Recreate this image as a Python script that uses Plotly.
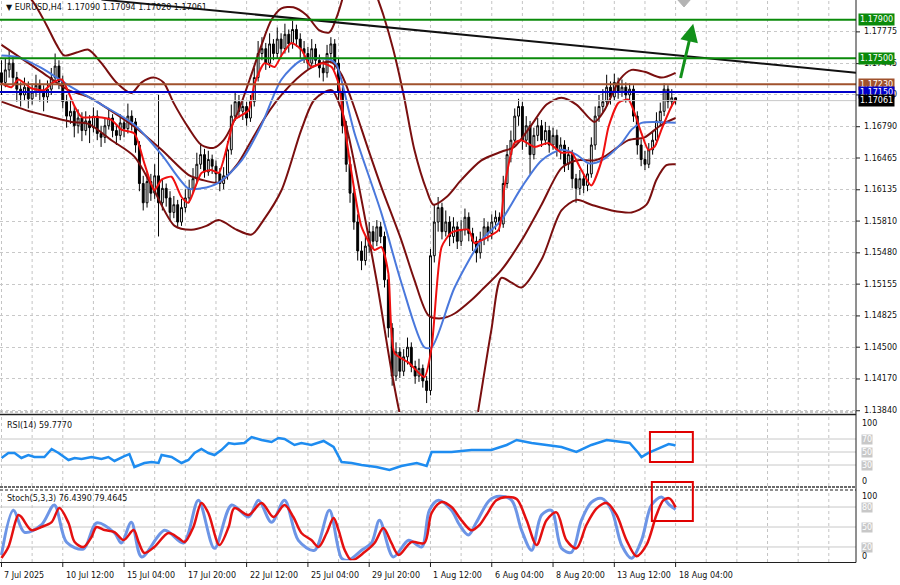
import plotly.graph_objects as go

# ---------------- DATA ----------------
bars = list(range(177))  # H4 bars, 7 Jul 2025 20:00 .. 18 Aug 2025 04:00

close = [
    1.1725, 1.1738, 1.1745, 1.1730, 1.1718, 1.1712, 1.1720, 1.1708, 1.1715, 1.1722,
    1.1716, 1.1710, 1.1718, 1.1730, 1.1742, 1.1726, 1.1705, 1.1690, 1.1695, 1.1680,
    1.1688, 1.1675, 1.1685, 1.1678, 1.1690, 1.1672, 1.1668, 1.1680, 1.1688, 1.1675,
    1.1670, 1.1683, 1.1677, 1.1690, 1.1684, 1.1660, 1.1620, 1.1600, 1.1622, 1.1610,
    1.1628, 1.1600, 1.1615, 1.1605, 1.1590, 1.1598, 1.1580, 1.1595, 1.1605, 1.1615,
    1.1625, 1.1640, 1.1650, 1.1632, 1.1645, 1.1638, 1.1630, 1.1620, 1.1628, 1.1655,
    1.1690, 1.1705, 1.1695, 1.1700, 1.1688, 1.1705, 1.1730, 1.1755, 1.1760, 1.1745,
    1.1765, 1.1755, 1.1770, 1.1760, 1.1775, 1.1765, 1.1780, 1.1770, 1.1760, 1.1755,
    1.1745, 1.1760, 1.1748, 1.1740, 1.1735, 1.1755, 1.1765, 1.1745, 1.1715, 1.1680,
    1.1640, 1.1610, 1.1580, 1.1550, 1.1540, 1.1555, 1.1570, 1.1560, 1.1575, 1.1565,
    1.1520, 1.1470, 1.1420, 1.1445, 1.1425, 1.1440, 1.1450, 1.1430, 1.1420, 1.1428,
    1.1415, 1.1405, 1.1545, 1.1580, 1.1595, 1.1570, 1.1580, 1.1565, 1.1575, 1.1560,
    1.1572, 1.1585, 1.1568, 1.1560, 1.1548, 1.1562, 1.1575, 1.1568, 1.1580, 1.1585,
    1.1578, 1.1620, 1.1650, 1.1665, 1.1690, 1.1700, 1.1665, 1.1680, 1.1650, 1.1670,
    1.1680, 1.1665, 1.1675, 1.1660, 1.1670, 1.1655, 1.1660, 1.1640, 1.1650, 1.1625,
    1.1615, 1.1625, 1.1618, 1.1630, 1.1660, 1.1690, 1.1700, 1.1705, 1.1720, 1.1710,
    1.1725, 1.1715, 1.1720, 1.1712, 1.1718, 1.1690, 1.1660, 1.1645, 1.1640, 1.1655,
    1.1665, 1.1685, 1.1695, 1.1718, 1.1705, 1.1709, 1.17061,
]
high = [
    1.1748, 1.1750, 1.1758, 1.1752, 1.1736, 1.1725, 1.1730, 1.1726, 1.1724, 1.1733,
    1.1728, 1.1722, 1.1727, 1.1740, 1.1755, 1.1748, 1.1732, 1.1712, 1.1706, 1.1700,
    1.1697, 1.1694, 1.1695, 1.1691, 1.1699, 1.1696, 1.1680, 1.1688, 1.1697, 1.1692,
    1.1681, 1.1692, 1.1688, 1.1703, 1.1696, 1.1688, 1.1664, 1.1628, 1.1632, 1.1630,
    1.1640, 1.1712, 1.1624, 1.1620, 1.1612, 1.1607, 1.1603, 1.1604, 1.1614, 1.1624,
    1.1636, 1.1652, 1.1662, 1.1656, 1.1654, 1.1650, 1.1644, 1.1636, 1.1637, 1.1664,
    1.1702, 1.1716, 1.1712, 1.1708, 1.1705, 1.1712, 1.1740, 1.1768, 1.1772, 1.1766,
    1.1776, 1.1770, 1.1782, 1.1776, 1.1786, 1.1780, 1.1789, 1.1785, 1.1776, 1.1768,
    1.1762, 1.1770, 1.1765, 1.1754, 1.1748, 1.1764, 1.1772, 1.1770, 1.1750, 1.1720,
    1.1685, 1.1648, 1.1616, 1.1588, 1.1560, 1.1566, 1.1580, 1.1576, 1.1582, 1.1580,
    1.1570, 1.1525, 1.1475, 1.1455, 1.1450, 1.1448, 1.1460, 1.1455, 1.1436, 1.1438,
    1.1432, 1.1420, 1.1552, 1.1598, 1.1606, 1.1600, 1.1592, 1.1586, 1.1585, 1.1580,
    1.1582, 1.1594, 1.1590, 1.1574, 1.1565, 1.1570, 1.1584, 1.1580, 1.1588, 1.1592,
    1.1590, 1.1628, 1.1660, 1.1675, 1.1698, 1.1708, 1.1705, 1.1690, 1.1685, 1.1678,
    1.1688, 1.1686, 1.1684, 1.1680, 1.1678, 1.1676, 1.1668, 1.1665, 1.1658, 1.1655,
    1.1630, 1.1634, 1.1630, 1.1640, 1.1668, 1.1700, 1.1712, 1.1718, 1.1733, 1.1726,
    1.1734, 1.1730, 1.1728, 1.1725, 1.1724, 1.1722, 1.1695, 1.1666, 1.1654, 1.1662,
    1.1674, 1.1694, 1.1704, 1.1724, 1.1722, 1.1718, 1.17094,
]
low = [
    1.1712, 1.1720, 1.1730, 1.1722, 1.1705, 1.1700, 1.1706, 1.1698, 1.1702, 1.1710,
    1.1705, 1.1695, 1.1704, 1.1712, 1.1725, 1.1718, 1.1698, 1.1678, 1.1682, 1.1668,
    1.1672, 1.1664, 1.1670, 1.1662, 1.1673, 1.1665, 1.1658, 1.1662, 1.1676, 1.1668,
    1.1660, 1.1665, 1.1668, 1.1672, 1.1675, 1.1652, 1.1612, 1.1592, 1.1595, 1.1602,
    1.1604, 1.1565, 1.1592, 1.1596, 1.1582, 1.1584, 1.1575, 1.1576, 1.1590, 1.1600,
    1.1610, 1.1620, 1.1635, 1.1626, 1.1628, 1.1630, 1.1620, 1.1612, 1.1614, 1.1624,
    1.1650, 1.1685, 1.1688, 1.1686, 1.1680, 1.1684, 1.1700, 1.1726, 1.1748, 1.1738,
    1.1740, 1.1748, 1.1750, 1.1752, 1.1755, 1.1756, 1.1760, 1.1762, 1.1750, 1.1745,
    1.1738, 1.1740, 1.1742, 1.1730, 1.1726, 1.1730, 1.1748, 1.1738, 1.1705, 1.1672,
    1.1632, 1.1600, 1.1572, 1.1540, 1.1530, 1.1535, 1.1548, 1.1552, 1.1555, 1.1558,
    1.1512, 1.1460, 1.1410, 1.1415, 1.1418, 1.1420, 1.1432, 1.1424, 1.1412, 1.1414,
    1.1408, 1.1392, 1.1400, 1.1538, 1.1570, 1.1562, 1.1565, 1.1555, 1.1558, 1.1552,
    1.1555, 1.1566, 1.1560, 1.1550, 1.1538, 1.1542, 1.1556, 1.1560, 1.1562, 1.1572,
    1.1570, 1.1574, 1.1615, 1.1642, 1.1660, 1.1680, 1.1655, 1.1658, 1.1630, 1.1645,
    1.1664, 1.1658, 1.1660, 1.1652, 1.1655, 1.1648, 1.1645, 1.1632, 1.1634, 1.1615,
    1.1600, 1.1608, 1.1610, 1.1612, 1.1626, 1.1655, 1.1684, 1.1694, 1.1700, 1.1702,
    1.1706, 1.1708, 1.1710, 1.1704, 1.1706, 1.1684, 1.1650, 1.1638, 1.1634, 1.1636,
    1.1650, 1.1660, 1.1680, 1.1690, 1.1698, 1.1700, 1.17020,
]
first_open = 1.1735
open_ = [first_open] + close[:-1]

# Bollinger bands (upper / middle / lower), read at sample bars
ub_x = [0, 3.9, 7.8, 11.7, 14.4, 16.4, 19.6, 22.7, 26.1, 30.0, 33.9, 36.6, 39.7, 42.3, 44.9, 48.8,
        52.2, 55.4, 58.0, 61.4, 64.8, 67.9, 70.5, 73.1, 76.2, 79.6, 83.0, 85.6, 87.7, 89.3, 91.4,
        95.3, 97.9, 99.7, 102.3, 105.0, 107.8, 111.0, 112.8, 116.2, 120.1, 125.3, 130.5, 133.9,
        138.4, 142.3, 146.2, 150.1, 154.8, 157.4, 161.4, 164.5, 167.9, 172.3, 176]
ub_y = [1.1823, 1.1823, 1.1811, 1.1785, 1.1764, 1.1753, 1.1756, 1.1759, 1.1745, 1.1725, 1.1714,
        1.1725, 1.1730, 1.1725, 1.1704, 1.1678, 1.1660, 1.1657, 1.1665, 1.1691, 1.1728, 1.1764,
        1.1790, 1.1802, 1.1803, 1.1795, 1.1779, 1.1777, 1.1795, 1.1816, 1.1852, 1.1852, 1.1816,
        1.1795, 1.1759, 1.1712, 1.1655, 1.1613, 1.1598, 1.1606, 1.1624, 1.1644, 1.1653, 1.1658,
        1.1681, 1.1702, 1.1709, 1.1702, 1.1684, 1.1696, 1.1728, 1.1738, 1.1736, 1.1730, 1.1735]
mb_x = [0, 5.2, 10.4, 17.5, 22.7, 26.1, 34.7, 41.8, 48.8, 52.2, 56.7, 61.4, 65.3, 69.2, 73.1, 78.3,
        82.2, 86.2, 88.8, 91.4, 95.8, 99.2, 104.4, 107.8, 111.5, 114.9, 118.3, 122.7, 125.3, 130.5,
        135.8, 141.0, 146.2, 150.1, 154.8, 157.4, 163.7, 167.9, 172.3, 176]
mb_y = [1.1764, 1.1750, 1.1736, 1.1717, 1.1710, 1.1702, 1.1679, 1.1655, 1.1629, 1.1624, 1.1621,
        1.1639, 1.1665, 1.1691, 1.1712, 1.1733, 1.1743, 1.1746, 1.1733, 1.1707, 1.1655, 1.1616,
        1.1561, 1.1520, 1.1483, 1.1480, 1.1485, 1.1499, 1.1509, 1.1530, 1.1561, 1.1598, 1.1636,
        1.1644, 1.1644, 1.1648, 1.1665, 1.1668, 1.1681, 1.1688]
lb_x = [0, 6.5, 13.1, 18.3, 22.7, 28.7, 34.7, 39.2, 45.2, 49.6, 53.5, 56.7, 61.4, 65.3, 68.4, 73.1,
        78.3, 81.7, 86.2, 88.8, 90.6, 94.0, 97.9, 101.8, 104.4, 107.0, 122.7, 124.5, 127.9, 130.5,
        133.2, 135.8, 141.0, 146.2, 150.1, 154.0, 159.3, 164.5, 168.4, 171.0, 173.6, 176]
lb_y = [1.1705, 1.1696, 1.1689, 1.1684, 1.1682, 1.1665, 1.1648, 1.1618, 1.1576, 1.1572, 1.1576,
        1.1582, 1.1572, 1.1567, 1.1582, 1.1613, 1.1676, 1.1707, 1.1717, 1.1696, 1.1670, 1.1603,
        1.1520, 1.1426, 1.1374, 1.1343, 1.1343, 1.1385, 1.1468, 1.1522, 1.1517, 1.1512, 1.1541,
        1.1592, 1.1603, 1.1598, 1.1592, 1.1590, 1.1598, 1.1624, 1.1639, 1.1640]

# Slow moving average (blue) and fast moving average (red)
slow_x = [0, 4.4, 10.4, 17.5, 26.1, 34.7, 41.8, 48.8, 52.2, 56.7, 62.7, 67.9, 73.1, 78.3, 82.2,
          86.2, 87.5, 92.2, 99.2, 104.4, 110.4, 112.3, 118.3, 125.3, 130.5, 135.8, 141.0, 146.2,
          150.1, 153.3, 156.7, 161.9, 164.5, 167.1, 176]
slow_y = [1.1753, 1.1751, 1.1740, 1.1722, 1.1702, 1.1681, 1.1650, 1.1615, 1.1615, 1.1621, 1.1644,
          1.1681, 1.1728, 1.1748, 1.1750, 1.1748, 1.1743, 1.1672, 1.1589, 1.1517, 1.1450, 1.1450,
          1.1512, 1.1561, 1.1582, 1.1616, 1.1644, 1.1655, 1.1650, 1.1641, 1.1644, 1.1662, 1.1676,
          1.1683, 1.1683]
fast_x = [0, 2.6, 4.4, 7.8, 11.2, 13.1, 15.7, 19.1, 20.9, 24.8, 28.7, 31.3, 34.7, 37.3, 39.9, 41.8,
          44.4, 47.0, 48.8, 52.2, 54.8, 56.7, 59.3, 60.8, 64.5, 66.1, 68.7, 71.3, 73.1, 75.7, 78.3,
          80.9, 83.6, 86.2, 88.0, 89.6, 91.4, 94.0, 97.4, 99.2, 101.0, 102.6, 106.3, 110.4, 112.3,
          114.9, 117.5, 121.9, 123.5, 125.3, 129.8, 131.3, 133.9, 135.8, 139.2, 142.8, 146.2, 148.8,
          151.4, 154.0, 156.7, 158.5, 161.1, 163.7, 165.3, 167.1, 168.9, 170.5, 172.3, 174.9, 176]
fast_y = [1.1724, 1.1720, 1.1728, 1.1719, 1.1717, 1.1724, 1.1728, 1.1700, 1.1689, 1.1689, 1.1686,
          1.1676, 1.1672, 1.1641, 1.1613, 1.1624, 1.1627, 1.1606, 1.1600, 1.1631, 1.1634, 1.1631,
          1.1665, 1.1686, 1.1696, 1.1724, 1.1745, 1.1741, 1.1753, 1.1766, 1.1759, 1.1741, 1.1745,
          1.1741, 1.1724, 1.1679, 1.1631, 1.1575, 1.1551, 1.1554, 1.1527, 1.1444, 1.1434, 1.1419,
          1.1450, 1.1554, 1.1569, 1.1572, 1.1558, 1.1561, 1.1572, 1.1616, 1.1662, 1.1665, 1.1658,
          1.1662, 1.1652, 1.1652, 1.1634, 1.1618, 1.1644, 1.1679, 1.1704, 1.1707, 1.1693, 1.1672,
          1.1655, 1.1658, 1.1676, 1.1700, 1.1707]

# RSI(14)
rsi_x = [0, 1.8, 3.4, 5.2, 7.0, 8.6, 11.2, 13.1, 14.9, 17.5, 19.1, 20.9, 23.5, 26.1, 27.9, 29.5,
         32.1, 33.4, 34.7, 37.3, 39.2, 41.0, 41.8, 44.4, 47.0, 48.8, 50.4, 52.2, 54.0, 55.6, 57.4,
         59.3, 60.8, 63.4, 65.3, 67.9, 70.5, 72.3, 73.9, 76.5, 78.3, 80.9, 84.1, 86.7, 88.8, 91.4,
         94.0, 97.9, 101.3, 104.4, 108.4, 111.0, 112.3, 117.5, 122.7, 127.9, 131.9, 134.5, 138.4,
         142.3, 146.2, 150.1, 154.0, 158.0, 161.9, 164.0, 166.3, 167.1, 168.9, 170.5, 172.3, 174.2,
         175.5, 176]
rsi_v = [40.8, 48.5, 48.5, 40.8, 45.4, 42.3, 42.3, 54.6, 48.5, 37.7, 40.8, 39.2, 42.3, 39.2, 42.3,
         36.2, 43.8, 46.9, 26.9, 33.1, 34.6, 33.1, 45.4, 42.3, 33.1, 37.7, 48.5, 54.6, 48.5, 45.4,
         53.0, 63.8, 62.3, 63.8, 73.0, 68.5, 65.4, 71.5, 70.0, 60.8, 63.8, 60.8, 67.0, 57.7, 34.6,
         33.1, 30.0, 26.9, 22.3, 28.5, 33.1, 28.5, 50.0, 50.0, 53.0, 53.0, 60.8, 68.5, 63.8, 60.8,
         57.7, 50.0, 60.8, 68.5, 65.4, 63.8, 48.5, 42.3, 48.5, 53.0, 57.7, 62.3, 60.8, 59.777]

# Stochastic (5,3,3): main (blue) and signal (red)
st_main_x = [0, 3.1, 6.0, 10.4, 13.8, 17.0, 21.4, 24.8, 29.5, 31.3, 33.9, 36.6, 42.6, 47.5, 51.4,
             55.6, 60.1, 64.5, 67.1, 70.5, 73.9, 77.5, 81.7, 85.6, 88.8, 90.6, 94.0, 96.6, 98.7,
             102.3, 106.3, 109.7, 111.7, 114.1, 117.5, 119.6, 121.9, 124.0, 127.4, 130.0, 133.2,
             135.8, 138.4, 141.0, 143.6, 146.2, 148.8, 151.4, 154.0, 156.7, 159.3, 161.9, 164.5,
             167.1, 169.7, 172.3, 174.4, 176]
st_main_v = [8, 75, 42, 53, 83, 27, 17, 56, 41, 26, 57, 5, 45, 26, 90, 18, 83, 65, 90, 57, 90, 30,
             15, 75, 3, 0, 15, 26, 60, 5, 30, 20, 75, 90, 75, 53, 38, 57, 90, 96, 90, 45, 15, 68,
             75, 18, 12, 60, 87, 93, 75, 23, 3, 30, 83, 95, 83, 76.439]
st_sig_x = [0, 1.8, 4.4, 5.2, 7.8, 10.4, 13.1, 15.1, 17.5, 19.1, 21.4, 23.5, 24.8, 26.9, 29.5, 31.9,
            34.5, 35.8, 37.3, 39.9, 43.6, 46.2, 47.8, 50.1, 52.2, 54.0, 56.9, 59.3, 60.8, 64.5, 67.9,
            71.0, 73.9, 76.2, 78.3, 80.9, 82.8, 84.9, 86.7, 88.0, 89.6, 91.4, 94.8, 97.4, 99.7, 101.8,
            103.7, 107.0, 110.4, 112.3, 114.9, 117.5, 120.1, 122.7, 124.8, 126.6, 129.2, 131.9, 134.5,
            137.1, 139.7, 142.3, 144.9, 147.5, 150.1, 152.7, 155.4, 158.0, 160.6, 163.2, 165.8, 168.4,
            171.0, 172.8, 174.4, 176]
st_sig_v = [3.4, 20, 68, 65, 45.4, 50, 57.4, 78.4, 56, 27.4, 20, 35, 50, 45.4, 42.4, 30.4, 45.4,
            27.4, 11, 20, 41, 33.4, 27.4, 50, 86, 71, 23, 50, 78.4, 68, 86, 65, 83, 65, 41, 30.4, 20,
            41, 63.4, 45.4, 15.4, 0, 12.4, 26, 48.4, 26, 8, 27.4, 26, 71, 87.4, 80, 60, 45, 53, 68,
            90, 95, 92, 60, 23, 60, 72, 30, 18, 53, 78, 86, 68, 30, 6, 23, 68, 90, 93, 79.4645]

# Horizontal levels and trend line
levels = [1.1790, 1.1750, 1.1723, 1.1715]
level_colors = ["#0a8a0a", "#0a8a0a", "#a0522d", "#0000c8"]
level_labels = ["1.17900", "1.17500", "1.17230", "1.17150"]
last_price = 1.17061
trend_x = [26.1, 223.5]
trend_y = [1.1811, 1.1735]
arrow_from = (177.2, 1.1728)
arrow_to = (180.6, 1.1786)
shift_marker_bar = 178.2

price_ticks = [1.17775, 1.17445, 1.17120, 1.16790, 1.16465, 1.16135, 1.15810, 1.15480,
               1.15155, 1.14825, 1.14500, 1.14170, 1.13840]
time_tick_bars = [0, 16, 32, 48, 64, 80, 96, 112, 128, 144, 160, 176]
time_tick_text = ["7 Jul 2025", "10 Jul 12:00", "15 Jul 04:00", "17 Jul 20:00", "22 Jul 12:00",
                  "25 Jul 04:00", "29 Jul 20:00", "1 Aug 12:00", "6 Aug 04:00", "8 Aug 20:00",
                  "13 Aug 12:00", "18 Aug 04:00"]

# ---------------- FIGURE ----------------
W, H = 900, 585
PLOT_R = 856 / W
FONT = "DejaVu Sans"


def py(ypx):
    return 1 - ypx / H


fig = go.Figure()

fig.add_trace(go.Candlestick(
    x=bars, open=open_, high=high, low=low, close=close,
    increasing=dict(line=dict(color="black", width=1), fillcolor="white"),
    decreasing=dict(line=dict(color="black", width=1), fillcolor="black"),
    whiskerwidth=0, hoverinfo="skip", showlegend=False, xaxis="x", yaxis="y"))


def add_line(xs, ys, color, width, yaxis="y", shape="spline", smooth=0.8):
    fig.add_trace(go.Scatter(
        x=xs, y=ys, mode="lines", xaxis="x", yaxis=yaxis,
        line=dict(color=color, width=width, shape=shape, smoothing=smooth),
        hoverinfo="skip", showlegend=False))


band_col = "#7a0f0f"
add_line(ub_x, ub_y, band_col, 2)
add_line(mb_x, mb_y, band_col, 2)
add_line(lb_x, lb_y, band_col, 2)
add_line(slow_x, slow_y, "#4a78dc", 2)
add_line(fast_x, fast_y, "#f01010", 2, smooth=0.6)
add_line(trend_x, trend_y, "#111111", 2, shape="linear")

add_line(rsi_x, rsi_v, "#1e8cf0", 2.5, yaxis="y2", shape="linear")
add_line(st_main_x, st_main_v, "#6d95e6", 3, yaxis="y3", smooth=0.9)
add_line(st_sig_x, st_sig_v, "#e41010", 2.5, yaxis="y3", smooth=0.9)

shapes = []
# vertical dotted grid in each panel
panels_px = [(0, 412), (415, 486), (490, 562)]
for k in range(0, 28):
    for (a, b) in panels_px:
        shapes.append(dict(type="line", xref="x", yref="paper", x0=8 * k, x1=8 * k,
                           y0=py(b), y1=py(a), line=dict(color="#c4c4c4", width=1, dash="3px,3px"),
                           layer="below"))
# indicator levels
for lv in (70, 50, 30):
    shapes.append(dict(type="line", xref="paper", yref="y2", x0=0, x1=PLOT_R, y0=lv, y1=lv,
                       line=dict(color="#c8c8c8", width=1), layer="below"))
for lv in (80, 50, 20):
    shapes.append(dict(type="line", xref="paper", yref="y3", x0=0, x1=PLOT_R, y0=lv, y1=lv,
                       line=dict(color="#c8c8c8", width=1), layer="below"))
# price levels
shapes.append(dict(type="line", xref="paper", yref="y", x0=0, x1=PLOT_R, y0=last_price, y1=last_price,
                   line=dict(color="#c8c8c8", width=1)))
for lv, col in zip(levels, level_colors):
    shapes.append(dict(type="line", xref="paper", yref="y", x0=0, x1=PLOT_R, y0=lv, y1=lv,
                       line=dict(color=col, width=2)))
# panel separators and frame
shapes += [
    dict(type="line", xref="paper", yref="paper", x0=0, x1=PLOT_R, y0=py(412), y1=py(412),
         line=dict(color="#909090", width=1, dash="3px,2px")),
    dict(type="line", xref="paper", yref="paper", x0=0, x1=PLOT_R, y0=py(414.5), y1=py(414.5),
         line=dict(color="#202020", width=1.5)),
    dict(type="line", xref="paper", yref="paper", x0=0, x1=PLOT_R, y0=py(487), y1=py(487),
         line=dict(color="#6a6a6a", width=2, dash="3px,1px")),
    dict(type="line", xref="paper", yref="paper", x0=0, x1=PLOT_R, y0=py(490), y1=py(490),
         line=dict(color="#6a6a6a", width=1.5, dash="3px,2px")),
    dict(type="line", xref="paper", yref="paper", x0=0, x1=PLOT_R, y0=py(562.5), y1=py(562.5),
         line=dict(color="#202020", width=1)),
    dict(type="line", xref="paper", yref="paper", x0=PLOT_R, x1=PLOT_R, y0=py(562.5), y1=1,
         line=dict(color="#202020", width=1)),
]
for tb in time_tick_bars:
    shapes.append(dict(type="line", xref="x", yref="paper", x0=tb, x1=tb, y0=py(567), y1=py(562),
                       line=dict(color="#202020", width=1)))
# price-axis tick marks
for pv in price_ticks:
    shapes.append(dict(type="line", xref="paper", yref="y", x0=PLOT_R, x1=860 / W, y0=pv, y1=pv,
                       line=dict(color="#202020", width=1)))
# chart-shift marker at the top
shapes.append(dict(type="path", xref="x", yref="paper",
                   path="M %.2f %.5f L %.2f %.5f L %.2f %.5f Z" % (
                       shift_marker_bar - 1.6, py(0), shift_marker_bar + 1.6, py(0),
                       shift_marker_bar, py(7)),
                   fillcolor="#b4b4b4", line=dict(color="#b4b4b4", width=1)))
# highlight boxes
shapes.append(dict(type="rect", xref="x", yref="paper", x0=169.3, x1=180.5, y0=py(462), y1=py(432),
                   line=dict(color="#e00000", width=2)))
shapes.append(dict(type="rect", xref="x", yref="paper", x0=169.8, x1=180.5, y0=py(521), y1=py(482),
                   line=dict(color="#e00000", width=2)))

ann = []
ann.append(dict(x=arrow_to[0], y=arrow_to[1], ax=arrow_from[0], ay=arrow_from[1], xref="x", yref="y",
                axref="x", ayref="y", showarrow=True, arrowhead=2, arrowsize=1.2, arrowwidth=3,
                arrowcolor="#12901a", text=""))
ann.append(dict(x=0.004, y=py(8), xref="paper", yref="paper", xanchor="left", yanchor="middle",
                showarrow=False, text="▼ EURUSD,H4  1.17090 1.17094 1.17020 1.17061",
                font=dict(family=FONT, size=8, color="#111111")))
ann.append(dict(x=0.006, y=py(425), xref="paper", yref="paper", xanchor="left", yanchor="middle",
                showarrow=False, text="RSI(14) 59.7770", font=dict(family=FONT, size=8, color="#111111")))
ann.append(dict(x=0.006, y=py(498), xref="paper", yref="paper", xanchor="left", yanchor="middle",
                showarrow=False, text="Stoch(5,3,3) 76.4390 79.4645",
                font=dict(family=FONT, size=8, color="#111111")))
# price-axis labels (as text so the layout is not resized)
for pv in price_ticks:
    ann.append(dict(x=862 / W, y=pv, xref="paper", yref="y", xanchor="left", yanchor="middle",
                    showarrow=False, text="%.5f" % pv, font=dict(family=FONT, size=8, color="#111111")))
# right-side price boxes
box_items = list(zip(levels, level_labels, level_colors)) + [(last_price, "1.17061", "#000000")]
for val, txt, col in box_items:
    ann.append(dict(x=858 / W, y=val, xref="paper", yref="y", xanchor="left", yanchor="middle",
                    showarrow=False, text=txt, bgcolor=col, borderpad=1,
                    font=dict(family=FONT, size=8, color="white")))
# indicator scale labels
for ypx, txt, boxed in [(423, "100", False), (439, "70", True), (452, "50", True), (465, "30", True),
                        (481, "0", False), (496, "100", False), (507, "80", True), (527, "50", True),
                        (547, "20", True), (556, "0", False)]:
    ann.append(dict(x=861 / W, y=py(ypx), xref="paper", yref="paper", xanchor="left", yanchor="middle",
                    showarrow=False, text=txt, bgcolor="#c8c8c8" if boxed else "rgba(0,0,0,0)",
                    borderpad=0, font=dict(family=FONT, size=8, color="white" if boxed else "#111111")))
# time axis labels
for tb, txt in zip(time_tick_bars, time_tick_text):
    ann.append(dict(x=tb, y=py(575), xref="x", yref="paper", xanchor="left", yanchor="middle",
                    xshift=1, showarrow=False, text=txt, font=dict(family=FONT, size=8, color="#111111")))

fig.update_layout(
    width=W, height=H, margin=dict(l=0, r=0, t=0, b=0, autoexpand=False),
    paper_bgcolor="white", plot_bgcolor="white", showlegend=False,
    shapes=shapes, annotations=ann,
    xaxis=dict(domain=[0, PLOT_R], range=[-0.39, 223.1], showticklabels=False, showgrid=False,
               zeroline=False, showline=False, rangeslider=dict(visible=False), fixedrange=True,
               automargin=False),
    yaxis=dict(domain=[py(412), 1], range=[1.13827, 1.18106], side="right", anchor="x",
               tickvals=price_ticks, showticklabels=False,
               showgrid=True, gridcolor="#c8c8c8", griddash="3px,3px", zeroline=False,
               ticks="", fixedrange=True, automargin=False),
    yaxis2=dict(domain=[py(484.5), py(419.5)], range=[0, 100], anchor="x", showticklabels=False,
                showgrid=False, zeroline=False, fixedrange=True, automargin=False),
    yaxis3=dict(domain=[py(560.3), py(493.7)], range=[0, 100], anchor="x", showticklabels=False,
                showgrid=False, zeroline=False, fixedrange=True, automargin=False),
)

fig.write_html("out.html", config={"displayModeBar": False},
               post_script="document.body.style.margin='0';document.body.style.overflow='hidden';")
